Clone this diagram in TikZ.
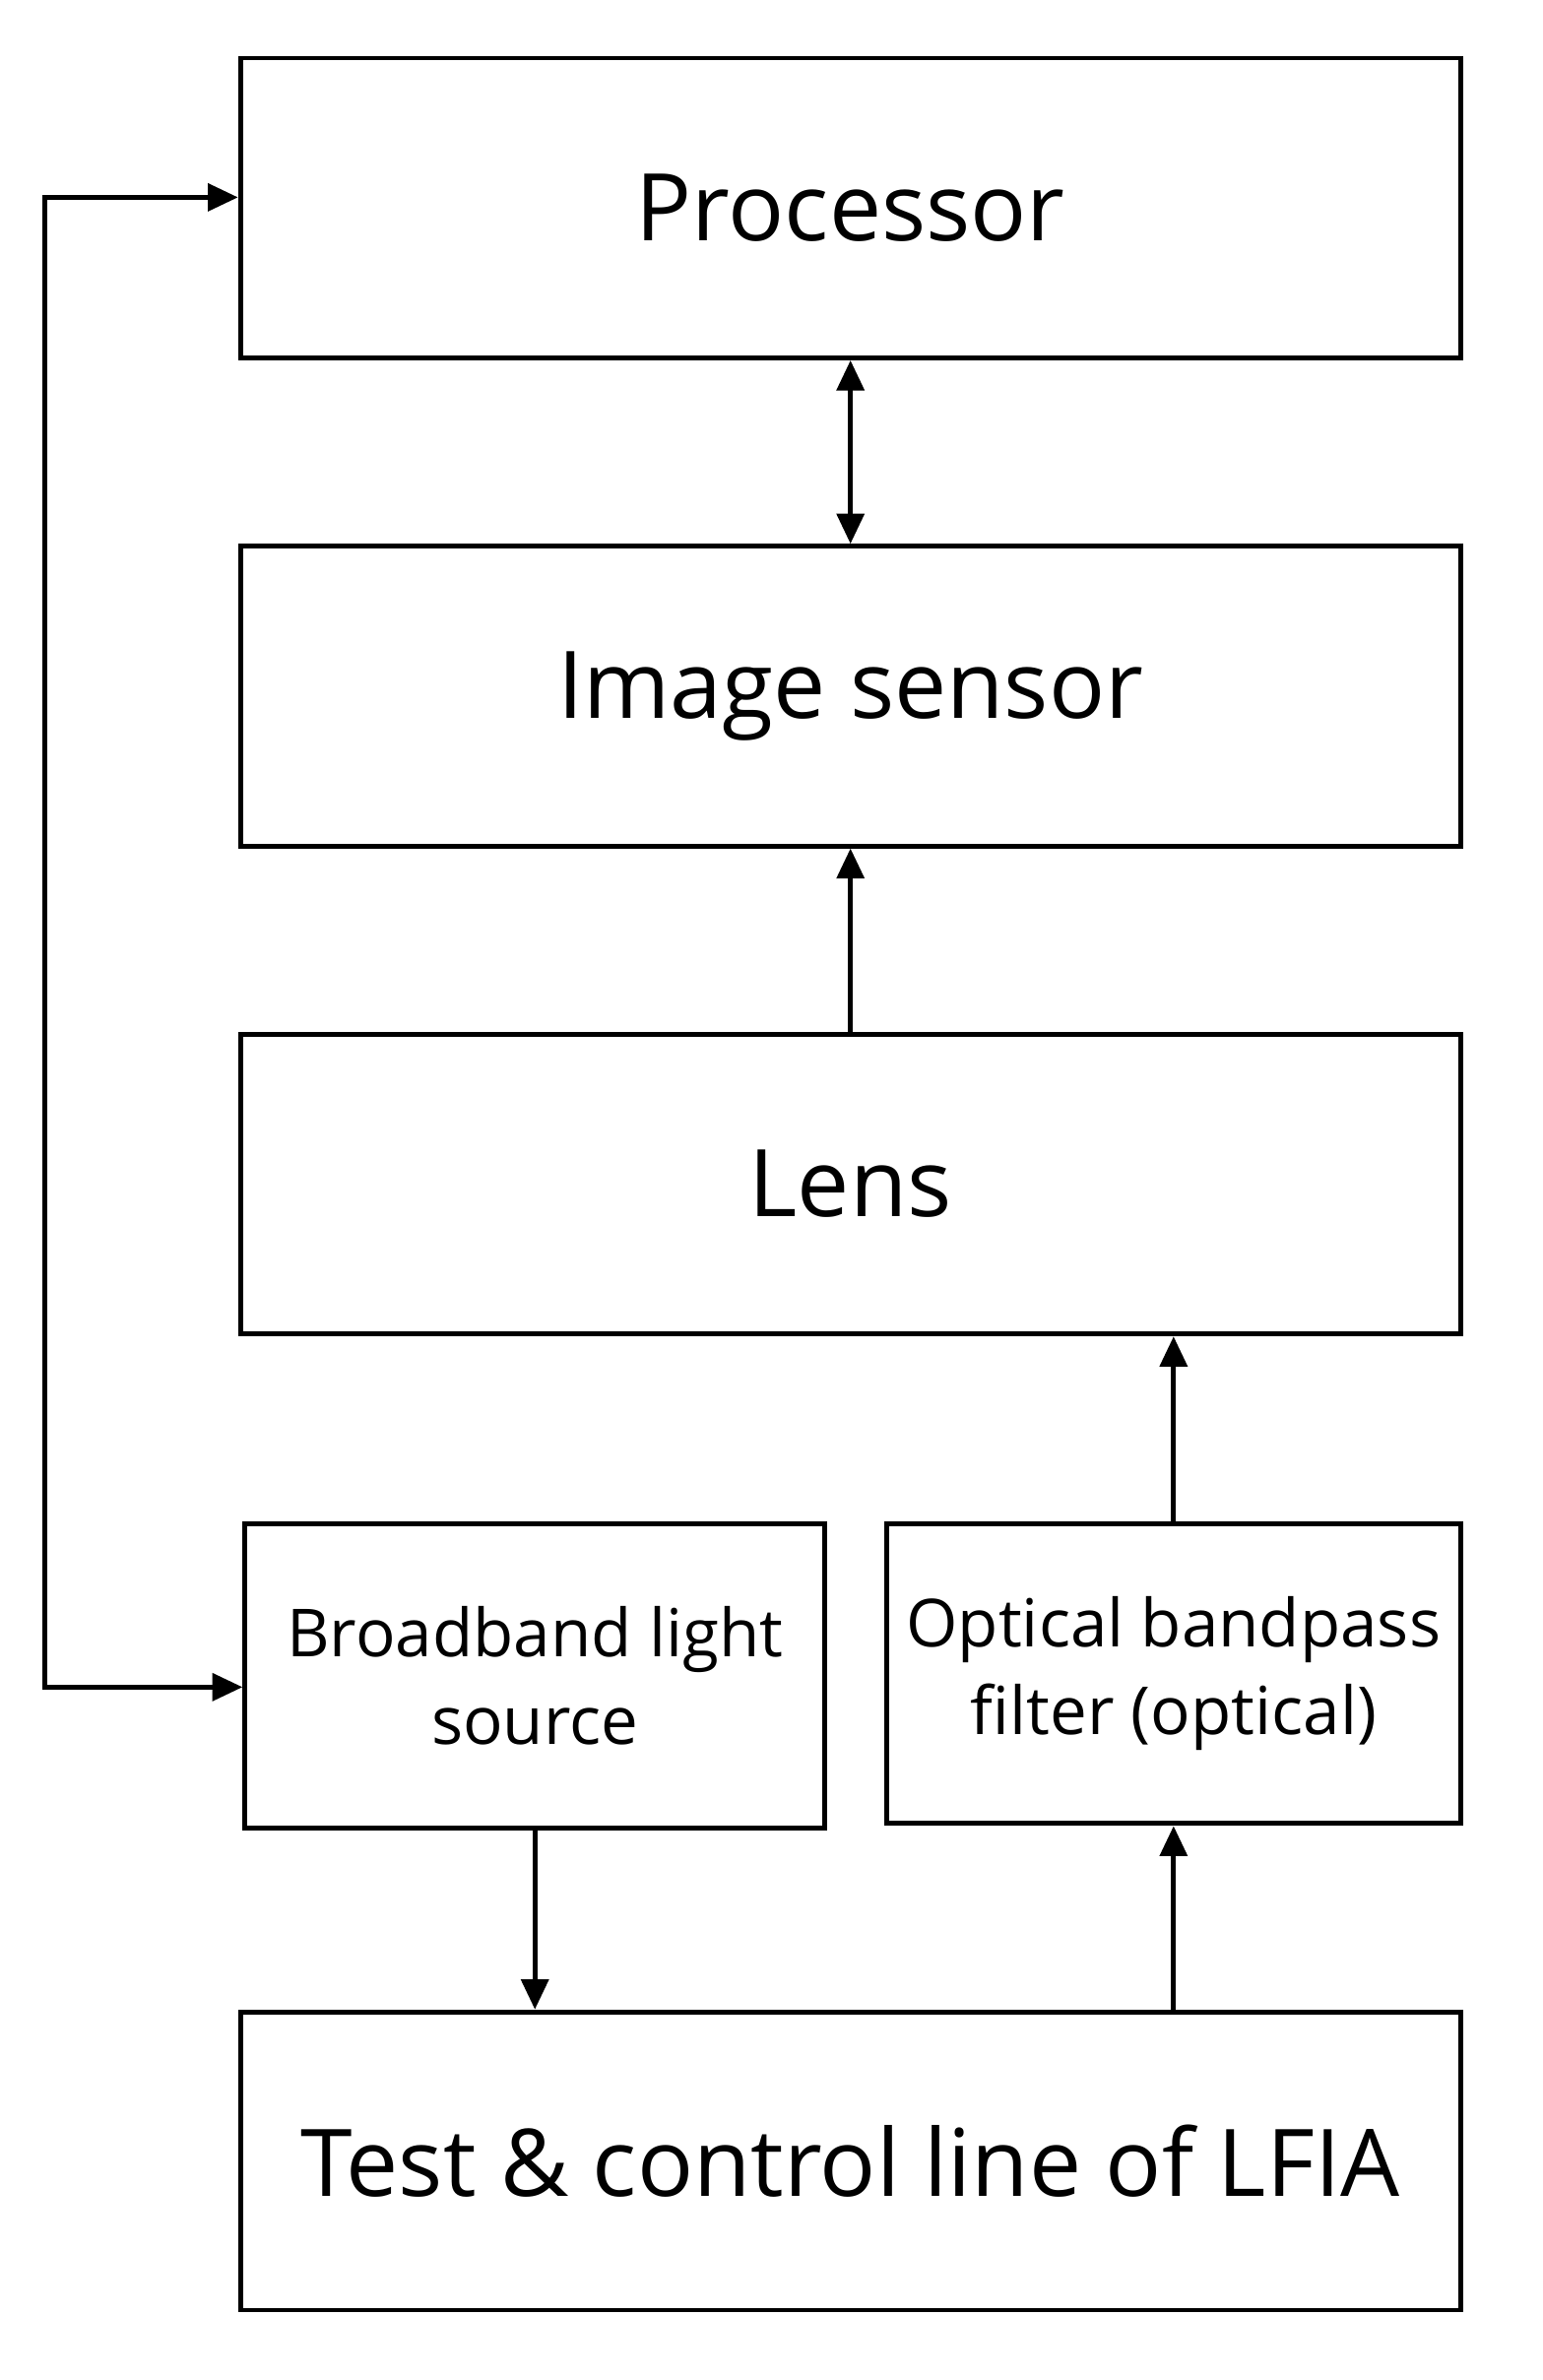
\documentclass[tikz,border=0pt]{standalone}
\usepackage{fontspec}
\setmainfont{Open Sans}
\usetikzlibrary{arrows.meta}
\begin{document}
\begin{tikzpicture}[x=0.5pt,y=-0.5pt,
  box/.style={draw,line width=1.6pt,inner sep=0pt,anchor=north west},
  arr/.style={line width=1.6pt,-{Triangle[length=10pt,width=9pt]}},
  big/.style={font=\fontsize{31}{36}\selectfont},
  small/.style={font=\fontsize{22}{29}\selectfont,align=center}]
\useasboundingbox (0,0) rectangle (1024,1580);
\node[box,minimum width=405pt,minimum height=99.5pt] (proc) at (158,37) {};
\node[big] at (proc.center) {Processor};
\node[box,minimum width=405pt,minimum height=99.5pt] (img) at (158,361) {};
\node[big] at (img.center) {Image sensor};
\node[box,minimum width=405pt,minimum height=99.5pt] (lens) at (158,685) {};
\node[big] at (lens.center) {Lens};
\node[box,minimum width=192.5pt,minimum height=101pt] (bb) at (161,1010) {};
\node[small] at (bb.center) {Broadband light\\source};
\node[box,minimum width=190.5pt,minimum height=99.5pt] (obf) at (587,1010) {};
\node[small] at (obf.center) {Optical bandpass\\filter (optical)};
\node[box,minimum width=405pt,minimum height=99pt] (test) at (158,1334) {};
\node[big] at (test.center) {Test \& control line of LFIA};
\coordinate (a1) at (30,131);
\coordinate (a2) at (30,1120);
\draw[line width=1.6pt,{Triangle[length=10pt,width=9pt]}-{Triangle[length=10pt,width=9pt]}] (proc.west |- a1) -- (a1) -- (a2) -- (bb.west |- a2);
\draw[line width=1.6pt,{Triangle[length=10pt,width=9pt]}-{Triangle[length=10pt,width=9pt]}] (proc.south) -- (img.north);
\draw[arr] (lens.north) -- (img.south);
\draw[arr] (obf.north) -- (obf.north |- lens.south);
\draw[arr] (bb.south) -- (bb.south |- test.north);
\draw[arr] (test.north -| obf.south) -- (obf.south);
\end{tikzpicture}
\end{document}
